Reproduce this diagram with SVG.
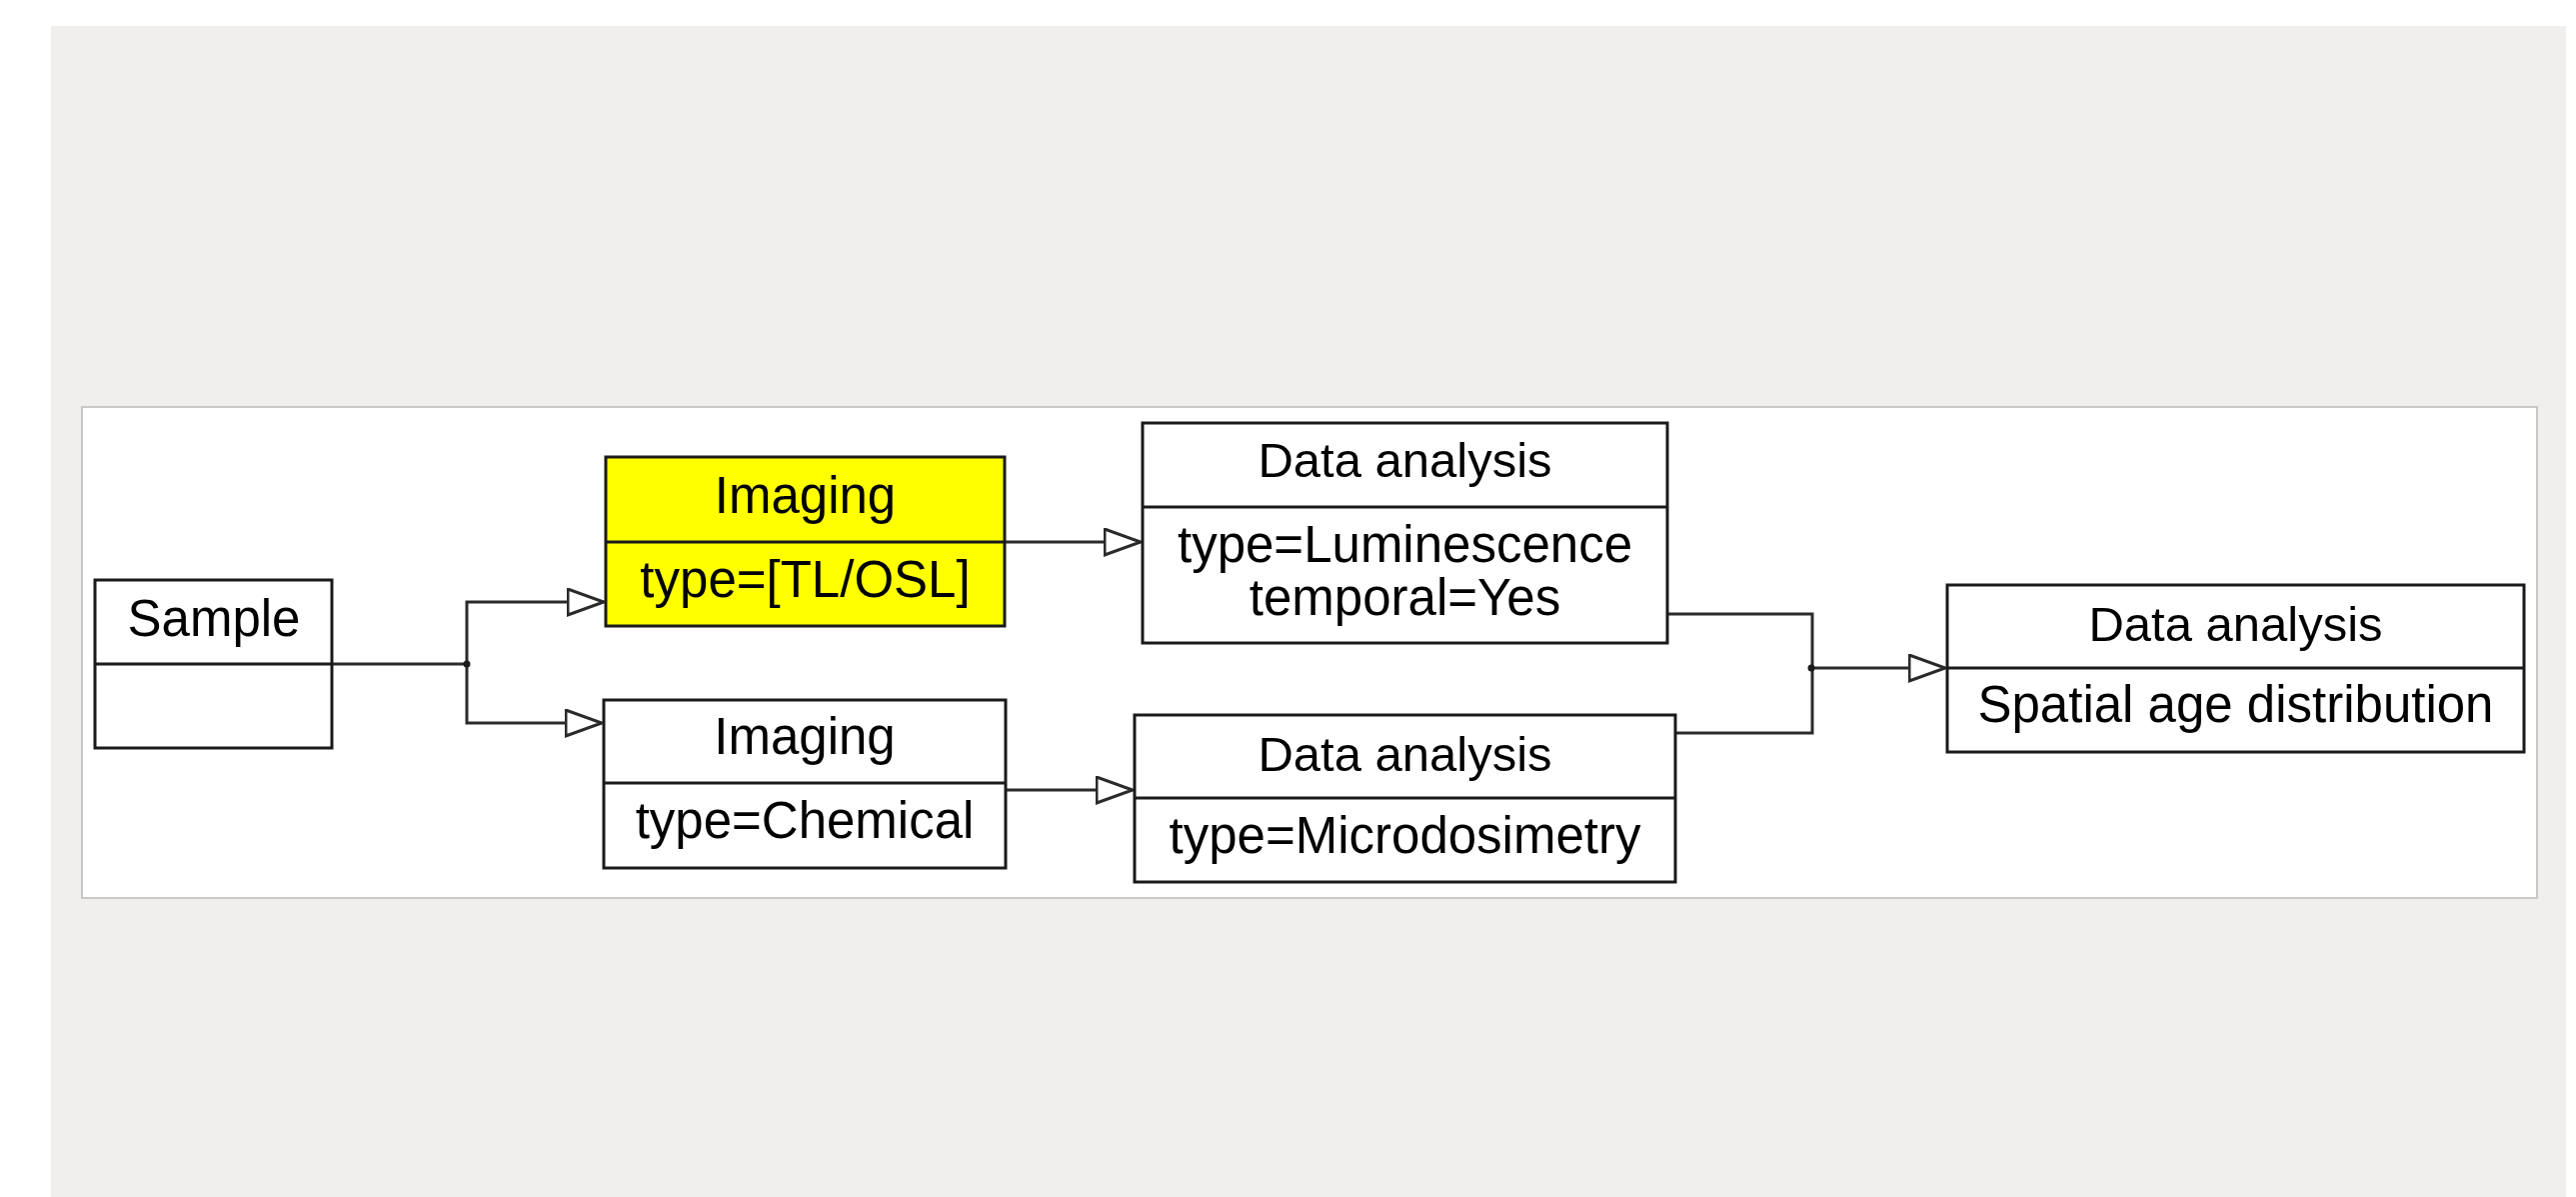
<svg xmlns="http://www.w3.org/2000/svg" width="2577" height="1197" viewBox="0 0 2577 1197">
  <style>
    .box { fill: #ffffff; stroke: #1a1a1a; stroke-width: 3; }
    .hl { fill: #ffff00; }
    .div { stroke: #1a1a1a; stroke-width: 3; }
    .t { font-family: "Liberation Sans", Arial, sans-serif; font-size: 51px; fill: #000; text-anchor: middle; }
    .title { font-size: 49px; }
    .conn { fill: none; stroke: #2a2a2a; stroke-width: 3; }
  </style>
  <defs>
    <marker id="tri" markerUnits="userSpaceOnUse" markerWidth="40" markerHeight="30" refX="37" refY="14" orient="auto" viewBox="0 0 40 30">
      <path d="M1,1 L37,14 L1,27 Z" fill="#ffffff" stroke="#2a2a2a" stroke-width="3" stroke-linejoin="miter"/>
    </marker>
  </defs>
  <rect x="0" y="0" width="2577" height="1197" fill="#ffffff"/>
  <rect x="51" y="26" width="2516" height="1171" fill="#f0efed"/>
  <rect x="82" y="407" width="2456" height="491" fill="#ffffff" stroke="#c8c8c8" stroke-width="2"/>

  <g id="connectors">
    <path class="conn" d="M332,664 H467"/>
    <path class="conn" d="M467,664 V602 H604" marker-end="url(#tri)"/>
    <path class="conn" d="M467,664 V723 H602" marker-end="url(#tri)"/>
    <circle cx="467" cy="664" r="3.5" fill="#1a1a1a"/>
    <path class="conn" d="M1005,542 H1141" marker-end="url(#tri)"/>
    <path class="conn" d="M1006,790 H1133" marker-end="url(#tri)"/>
    <path class="conn" d="M1668,614 H1813 V733 H1676"/>
    <path class="conn" d="M1813,668 H1946" marker-end="url(#tri)"/>
    <circle cx="1812" cy="668" r="3.5" fill="#1a1a1a"/>
  </g>

  <g id="node-sample">
    <rect class="box" x="95" y="580" width="237" height="168"/>
    <line class="div" x1="95" y1="664" x2="332" y2="664"/>
    <text class="t" x="214" y="636">Sample</text>
  </g>

  <g id="node-imaging-tlosl">
    <rect class="box hl" x="606" y="457" width="399" height="169"/>
    <line class="div" x1="606" y1="542" x2="1005" y2="542"/>
    <text class="t" x="805.5" y="513">Imaging</text>
    <text class="t" x="805.5" y="597">type=[TL/OSL]</text>
  </g>

  <g id="node-imaging-chemical">
    <rect class="box" x="604" y="700" width="402" height="168"/>
    <line class="div" x1="604" y1="783" x2="1006" y2="783"/>
    <text class="t" x="805" y="754">Imaging</text>
    <text class="t" x="805" y="838">type=Chemical</text>
  </g>

  <g id="node-data-luminescence">
    <rect class="box" x="1143" y="423" width="525" height="220"/>
    <line class="div" x1="1143" y1="507" x2="1668" y2="507"/>
    <text class="t title" x="1405.5" y="477">Data analysis</text>
    <text class="t" x="1405.5" y="562">type=Luminescence</text>
    <text class="t" x="1405.5" y="615">temporal=Yes</text>
  </g>

  <g id="node-data-microdosimetry">
    <rect class="box" x="1135" y="715" width="541" height="167"/>
    <line class="div" x1="1135" y1="798" x2="1676" y2="798"/>
    <text class="t title" x="1405.5" y="771">Data analysis</text>
    <text class="t" x="1405.5" y="853">type=Microdosimetry</text>
  </g>

  <g id="node-data-spatial">
    <rect class="box" x="1948" y="585" width="577" height="167"/>
    <line class="div" x1="1948" y1="668" x2="2525" y2="668"/>
    <text class="t title" x="2236.5" y="641">Data analysis</text>
    <text class="t" x="2236.5" y="722">Spatial age distribution</text>
  </g>
</svg>
